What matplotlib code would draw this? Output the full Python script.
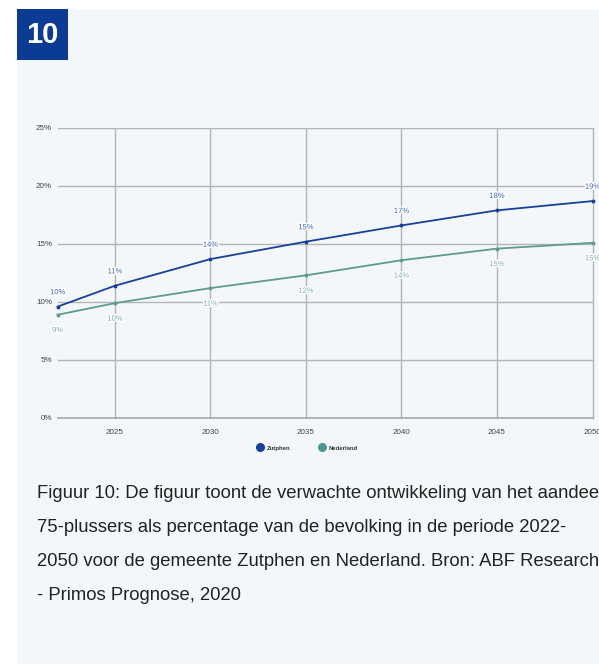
#!/usr/bin/env python3

import matplotlib
matplotlib.use('Agg')
import matplotlib.pyplot as plt
import matplotlib.patheffects as pe
from matplotlib.patches import Rectangle
from matplotlib.ticker import FuncFormatter

# data
years = [2022, 2025, 2030, 2035, 2040, 2045, 2050]
zutphen = [9.6, 11.4, 13.7, 15.2, 16.6, 17.9, 18.7]
nederland = [8.9, 9.9, 11.2, 12.3, 13.6, 14.6, 15.1]
zutphen_labels = ['10%', '11%', '14%', '15%', '17%', '18%', '19%']
nederland_labels = ['9%', '10%', '11%', '12%', '14%', '15%', '15%']
x_ticks = [2025, 2030, 2035, 2040, 2045, 2050]
y_ticks = [0, 5, 10, 15, 20, 25]
caption = ['Figuur 10: De figuur toont de verwachte ontwikkeling van het aandeel',
           '75-plussers als percentage van de bevolking in de periode 2022-',
           '2050 voor de gemeente Zutphen en Nederland. Bron: ABF Research',
           '- Primos Prognose, 2020']

plt.rcParams['font.family'] = ['Liberation Sans', 'DejaVu Sans']

W, H = 599, 664
fig = plt.figure(figsize=(W/100, H/100), dpi=100)
fig.patch.set_facecolor('white')

bg = '#f4f7f9'
# light panel behind everything
fig.patches.append(Rectangle((17/W, 0), 1, 1 - 10/H, transform=fig.transFigure,
                             facecolor=bg, edgecolor='none', zorder=-5))
# number box
fig.patches.append(Rectangle((17/W, 1 - 60/H), 51/W, 51/H, transform=fig.transFigure,
                             facecolor='#0b3b94', edgecolor='none', zorder=-4))
fig.text(42.5/W, 1 - 35/H, '10', color='white', fontsize=21, fontweight='bold',
         ha='center', va='center')

ax = fig.add_axes([57.6/W, 1 - 418/H, (592.5 - 57.6)/W, (418 - 128)/H])
ax.set_facecolor(bg)
ax.set_xlim(2022, 2050)
ax.set_ylim(0, 25)

ax.set_xticks(x_ticks)
ax.set_yticks(y_ticks)
ax.yaxis.set_major_formatter(FuncFormatter(lambda v, p: '%d%%' % v))
ax.tick_params(length=0, labelsize=5.8, colors='#444444')
ax.tick_params(axis='x', pad=8)
ax.tick_params(axis='y', pad=4)
ax.grid(True, color='#b4b4b4', linewidth=1)
ax.set_axisbelow(True)
for gl in ax.get_xgridlines():
    gl.set_clip_on(False)
for s in ['top', 'left', 'right']:
    ax.spines[s].set_visible(False)
ax.spines['bottom'].set_color('#a8a8a8')
ax.spines['bottom'].set_linewidth(1.2)

c_z = '#17409c'
c_n = '#5c9c8e'
ax.plot(years, zutphen, color=c_z, linewidth=1.3, marker='o', markersize=1.8,
        clip_on=False, label='Zutphen')
ax.plot(years, nederland, color=c_n, linewidth=1.3, marker='o', markersize=1.8,
        clip_on=False, label='Nederland')

halo = [pe.withStroke(linewidth=2, foreground='white')]
for x, y, t in zip(years, zutphen, zutphen_labels):
    ax.annotate(t, (x, y), xytext=(0, 10), textcoords='offset points', ha='center',
                va='center', fontsize=5.5, color='#4468b8', path_effects=halo,
                annotation_clip=False)
for x, y, t in zip(years, nederland, nederland_labels):
    ax.annotate(t, (x, y), xytext=(0, -11.5), textcoords='offset points', ha='center',
                va='center', fontsize=5.5, color='#7fb0a4', path_effects=halo,
                annotation_clip=False)

leg = fig.legend(handles=[
    plt.Line2D([], [], marker='o', linestyle='none', color=c_z, markersize=5.5, label='Zutphen'),
    plt.Line2D([], [], marker='o', linestyle='none', color='#4f9690', markersize=5.5, label='Nederland')],
    loc='center', bbox_to_anchor=(306/W, 1 - 448/H), ncol=2, frameon=False,
    prop={'size': 4.3, 'weight': 'bold'}, handletextpad=0.2, columnspacing=4.2)
for t in leg.get_texts():
    t.set_color('#333333')

for i, line in enumerate(caption):
    fig.text(37/W, 1 - (493 + 34*i)/H, line, fontsize=13.3, color='#222222',
             ha='left', va='center')

fig.savefig('out.png', dpi=100, facecolor=fig.get_facecolor())
